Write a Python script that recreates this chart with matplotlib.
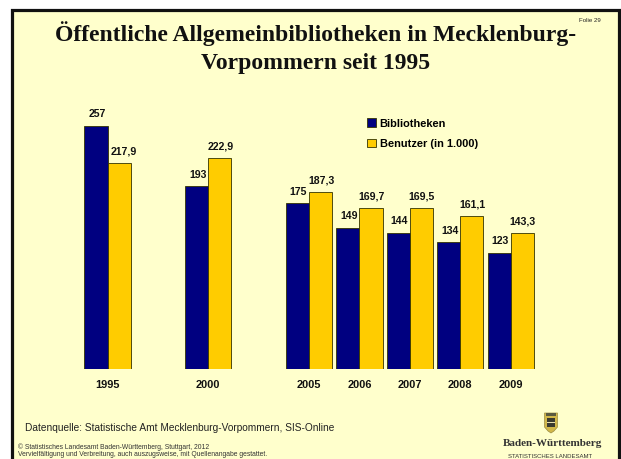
import numpy as np
import matplotlib
matplotlib.use("Agg")
import matplotlib.pyplot as plt
from matplotlib.patches import Rectangle, Polygon

# empty strings keep the gaps between 1995, 2000 and 2005
years = ["1995", "", "2000", "", "2005", "2006", "2007", "2008", "2009"]
bibliotheken = [257, None, 193, None, 175, 149, 144, 134, 123]
benutzer = [217.9, None, 222.9, None, 187.3, 169.7, 169.5, 161.1, 143.3]
bib_labels = ["257", "", "193", "", "175", "149", "144", "134", "123"]
ben_labels = ["217,9", "", "222,9", "", "187,3", "169,7", "169,5", "161,1", "143,3"]

navy = "#000080"
yellow = "#ffcc00"
bg = "#ffffcc"
sans = "Liberation Sans"
serif = "Liberation Serif"

W, H = 621, 459
fig = plt.figure(figsize=(W / 100, H / 100), dpi=100, facecolor="white")

# page frame and free text, in pixel coordinates
page = fig.add_axes([0, 0, 1, 1])
page.set_xlim(0, W)
page.set_ylim(H, 0)
page.axis("off")
page.add_patch(Rectangle((11.5, 9.5), 607.5, 460, fc=bg, ec="#111111", lw=2.3))

page.text(316, 40.7, "Öffentliche Allgemeinbibliotheken in Mecklenburg-", family=serif,
          fontweight="bold", fontsize=17.05, ha="center", va="baseline", color="#111111")
page.text(316, 69.3, "Vorpommern seit 1995", family=serif,
          fontweight="bold", fontsize=17.05, ha="center", va="baseline", color="#111111")
page.text(590, 21, "Folie 29", family=sans, fontsize=4.4, ha="center", va="center", color="#222222")
page.text(25, 428, "Datenquelle: Statistische Amt Mecklenburg-Vorpommern, SIS-Online", family=sans,
          fontsize=7.25, ha="left", va="center", color="#222222")
page.text(18, 447, "© Statistisches Landesamt Baden-Württemberg, Stuttgart, 2012", family=sans,
          fontsize=4.9, ha="left", va="center", color="#333333")
page.text(18, 455, "Vervielfältigung und Verbreitung, auch auszugsweise, mit Quellenangabe gestattet.", family=sans,
          fontsize=4.9, ha="left", va="center", color="#333333")
page.text(552.5, 444, "Baden-Württemberg", family=serif, fontweight="bold", fontsize=8.05,
          ha="center", va="center", color="#333333")
page.text(550, 457, "STATISTISCHES LANDESAMT", family=sans, fontsize=4.3,
          ha="center", va="center", color="#333333")

# crest
page.add_patch(Polygon([(544.5, 413), (557.5, 413), (557.5, 427), (554, 431), (551, 433),
                        (548, 431), (544.5, 427)], closed=True, fc="#d2b84a", ec="#9a8a40", lw=0.5))
page.add_patch(Rectangle((547, 418), 8, 9, fc="#3a3a30", ec="none"))
page.add_patch(Rectangle((547, 421.5), 8, 1.5, fc="#e8e0b0", ec="none"))
page.add_patch(Rectangle((546, 413), 10, 3, fc="#5a5a40", ec="none"))

# chart
ax = fig.add_axes([82.3 / W, 1 - 369 / H, 453.6 / W, 250 / H])
ax.patch.set_alpha(0)
x = np.arange(len(years))
width = 0.46
bib = np.array([np.nan if v is None else v for v in bibliotheken], dtype=float)
ben = np.array([np.nan if v is None else v for v in benutzer], dtype=float)

ax.bar(x - width / 2, bib, width, color=navy, edgecolor="#333300", linewidth=0.6, label="Bibliotheken")
ax.bar(x + width / 2, ben, width, color=yellow, edgecolor="#333300", linewidth=0.6, label="Benutzer (in 1.000)")

for i in x:
    if bib_labels[i]:
        ax.annotate(bib_labels[i], (x[i] - width / 2, bib[i]), xytext=(0.7, 8.3), textcoords="offset points",
                    ha="center", va="center", family=sans, fontweight="bold", fontsize=7.6, color="#111111")
        # the 1995 label sits a little to the right of its bar
        dx = 3.6 if i == 0 else 0.3
        ax.annotate(ben_labels[i], (x[i] + width / 2, ben[i]), xytext=(dx, 8.3), textcoords="offset points",
                    ha="center", va="center", family=sans, fontweight="bold", fontsize=7.6, color="#111111")

ax.set_xlim(-0.5, len(years) - 0.5)
ax.set_ylim(0, 250 / 0.947)
ax.set_xticks(x)
ax.set_xticklabels(years, family=sans, fontweight="bold", fontsize=7.9, color="#111111")
ax.tick_params(axis="x", length=0, pad=8)
ax.set_yticks([])
for s in ax.spines.values():
    s.set_visible(False)

ax.legend(loc="upper left", bbox_to_anchor=((367 - 82.3) / 453.6, (369 - 118.5) / 250), frameon=False,
          prop={"family": sans, "weight": "bold", "size": 7.9}, handlelength=0.8, handleheight=0.8,
          handletextpad=0.35, labelspacing=0.95, borderpad=0, borderaxespad=0)

fig.savefig("out.png", dpi=100, facecolor="white")
